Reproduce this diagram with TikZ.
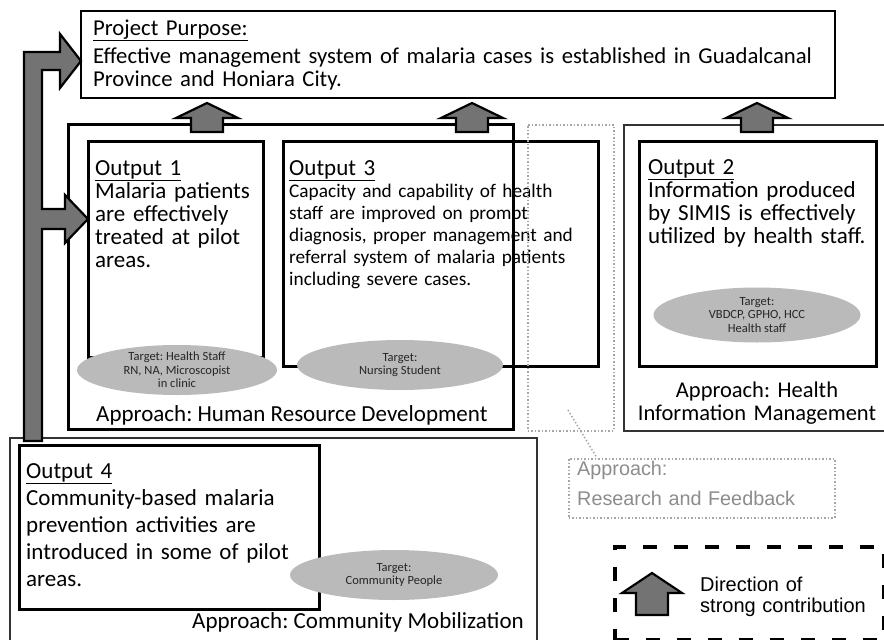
\documentclass[tikz,border=0pt]{standalone}
\usepackage{fontspec}
\setmainfont{Carlito}
\newfontfamily\arialfont{Liberation Sans}
\frenchspacing
\usetikzlibrary{shapes.geometric,positioning}
\tikzset{
bigbox/.style={
 draw=black, 
 line width=2pt, 
 inner sep=0pt, 
 anchor=north west
 },
outbox/.style={
 draw=black, 
 line width=2.6pt, 
 fill=white, 
 inner sep=0pt, 
 anchor=north west
 },
softbox/.style={
 draw=black!35, 
 line width=1.5pt, 
 dotted, 
 inner sep=0pt, 
 anchor=north west
 },
bodytext/.style={
 inner sep=0pt, 
 anchor=base west, 
 align=left, 
 font=\fontsize{23}{23}\selectfont
 },
smalltext/.style={
 bodytext, 
 font=\fontsize{19.3}{22}\selectfont
 },
armtext/.style={
 inner sep=0pt, 
 anchor=base west, 
 align=left, 
 font=\arialfont\fontsize{20}{21.5}\selectfont
 },
target/.style={
 ellipse, 
 fill=black!27, 
 draw=none, 
 inner sep=0pt
 },
targettext/.style={
 inner sep=0pt, 
 align=center, 
 text=black!85, 
 font=\fontsize{12.5}{13.5}\selectfont
 },
contrib/.style={
 draw=black, 
 line width=2.2pt, 
 fill=black!55, 
 line join=miter
 },
legendbox/.style={
 draw=black, 
 line width=3.5pt, 
 dash pattern=on 14pt off 17pt, 
 inner sep=0pt, 
 anchor=north west
 }
}
\begin{document}
\begin{tikzpicture}[x=1pt,y=-1pt]
\useasboundingbox (0,0) rectangle (884,640);
% approach frames
\node[bigbox, draw=black!80, minimum width=527, minimum height=215] (cmframe) at (9,437) {};
\node[bigbox, draw=black!80, minimum width=265, minimum height=306] (himframe) at (623,124) {};
\node[bigbox, minimum width=754, minimum height=87] (purpose) at (80,10) {};
% outputs
\node[outbox, minimum width=175, minimum height=216] (out1) at (87,140) {};
\node[outbox, minimum width=315, minimum height=225] (out3) at (282,140) {};
\node[outbox, minimum width=237, minimum height=225] (out2) at (638,140) {};
\node[outbox, minimum width=300, minimum height=164] (out4) at (18,444) {};
% texts
\node[bodytext, font=\fontsize{22.7}{23}\selectfont, text width=745] (purposetxt) at (93,35) {\underline{Project Purpose:}\\[5pt]Effective management system of malaria cases is established in Guadalcanal\\Province and Honiara City.};
\node[bodytext, text width=170] (out1txt) at (95,175) {\underline{Output 1}\\Malaria patients\\are effectively\\treated at pilot\\areas.};
\node[bodytext, text width=300] (out3head) at (289,175) {\underline{Output 3}};
\node[smalltext, text width=305] (out3txt) at (289,197) {Capacity and capability of health\\staff are improved on prompt\\diagnosis, proper management and\\referral system of malaria patients\\including severe cases.};
\node[bodytext, text width=230] (out2txt) at (648,174) {\underline{Output 2}\\Information produced\\by SIMIS is effectively\\utilized by health staff.};
\node[bodytext, font=\fontsize{23}{27}\selectfont, text width=295] (out4txt) at (26,478) {\underline{Output 4}\\Community-based malaria\\prevention activities are\\introduced in some of pilot\\areas.};
\node[bodytext] (hrdlabel) at (96,421) {Approach: Human Resource Development};
\node[bodytext, font=\fontsize{22.5}{23}\selectfont, text width=260, align=center, anchor=base] (himlabel) at (757,397) {Approach: Health\\Information Management};
\node[bodytext, anchor=base east] (cmlabel) at (524,628) {Approach: Community Mobilization};
% frames drawn over output 3
\node[bigbox, line width=2.6pt, minimum width=445, minimum height=305] (hrdframe) at (67,123) {};
\node[softbox, minimum width=86, minimum height=306] (rfframe) at (527,124) {};
% targets
\node[target, minimum width=200, minimum height=50] (t1) at (177,370) {};
\node[targettext] (t1txt) at (t1) {Target: Health Staff\\RN, NA, Microscopist\\in clinic};
\node[target, minimum width=206, minimum height=50] (t2) at (400,365) {};
\node[targettext] (t2txt) at (t2) {Target:\\Nursing Student};
\node[target, minimum width=207, minimum height=55] (t3) at (757,315) {};
\node[targettext] (t3txt) at (t3) {Target:\\VBDCP, GPHO, HCC\\Health staff};
\node[target, minimum width=208, minimum height=50] (t4) at (394,575) {};
\node[targettext] (t4txt) at (t4) {Target:\\Community People};
% research and feedback
\coordinate (rfpoint) at (568,410);
\node[softbox, minimum width=266, minimum height=59] (rflabel) at (568,458) {};
\node[armtext, text=black!45, font=\arialfont\fontsize{19.8}{30}\selectfont, text width=250] (rftxt) at (577,475) {Approach:\\Research and Feedback};
\draw[black!35, line width=1.5pt, dotted] (rfpoint) -- ([xshift=29pt]rflabel.north west);
% contributions
\foreach \cx in {207,472,757}
 \draw[contrib] (\cx,103) -- (\cx+31,118) -- (\cx+16,118) -- (\cx+16,132) -- (\cx-16,132) -- (\cx-16,118) -- (\cx-31,118) -- cycle;
\draw[contrib] (24,441) -- (24,52) -- (60,52) -- (60,34) -- (81,61) -- (60,88) -- (60,70) -- (42,70) -- (42,209) -- (65,209) -- (65,195) -- (88,219) -- (65,243) -- (65,229) -- (42,229) -- (42,441) -- cycle;
% legend
\node[legendbox, minimum width=269, minimum height=93] (legend) at (613,545) {};
\draw[contrib] (652,573) -- (682,593) -- (668,593) -- (668,615) -- (636,615) -- (636,593) -- (622,593) -- cycle;
\node[armtext, text width=175] (legendtxt) at (700,591) {Direction of\\strong contribution};
\end{tikzpicture}
\end{document}
